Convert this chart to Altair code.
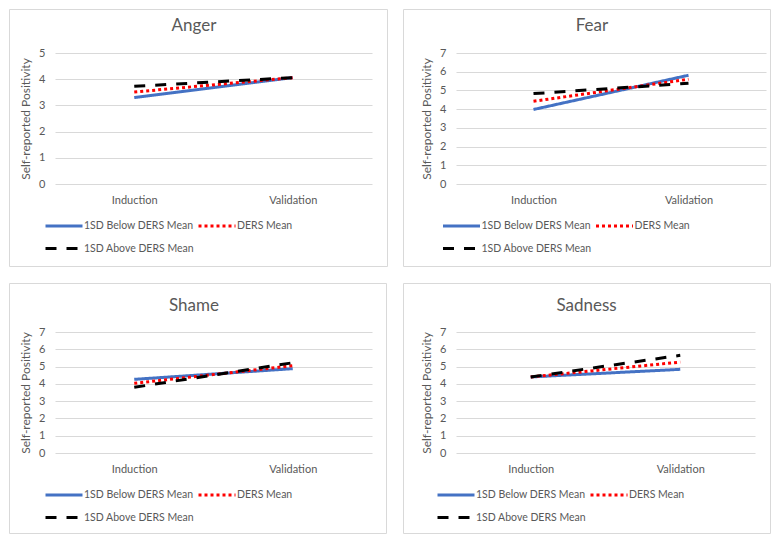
import altair as alt
import pandas as pd

phases = ["Induction", "Validation"]
series = ["1SD Below DERS Mean", "DERS Mean", "1SD Above DERS Mean"]
emotions = ["Anger", "Fear", "Shame", "Sadness"]

anger_below = [3.30, 4.06]
anger_mean = [3.51, 4.06]
anger_above = [3.73, 4.06]
fear_below = [3.98, 5.81]
fear_mean = [4.42, 5.60]
fear_above = [4.83, 5.38]
shame_below = [4.26, 4.88]
shame_mean = [4.03, 5.05]
shame_above = [3.80, 5.22]
sadness_below = [4.40, 4.84]
sadness_mean = [4.40, 5.26]
sadness_above = [4.40, 5.65]

y_max = [5, 7, 7, 7]

values = {
    "Anger": [anger_below, anger_mean, anger_above],
    "Fear": [fear_below, fear_mean, fear_above],
    "Shame": [shame_below, shame_mean, shame_above],
    "Sadness": [sadness_below, sadness_mean, sadness_above],
}

colors = ["#4472C4", "#FF0000", "#000000"]
dashes = [[1, 0], [3, 3], [11, 10]]
GRAY = "#595959"
FONT = "Lato"

# layout per panel: width, height, border box (left, right-extra, top, bottom-extra),
# legend x/y, title baseline y, title dx
layout = {
    "Anger": dict(w=317, h=131, box=(-45.5, 15.5, -43.5, 82.5), lx=-14, ly=165, ty=-22.5, tdx=-19.5),
    "Fear": dict(w=310, h=131, box=(-52.5, 4.5, -43.5, 82.5), lx=-17.5, ly=165, ty=-22.5, tdx=-19),
    "Shame": dict(w=317, h=121, box=(-45.5, 14.5, -48.5, 80.5), lx=-14, ly=155, ty=-21.3, tdx=-19.5),
    "Sadness": dict(w=299, h=121, box=(-52.5, 15.5, -48.5, 80.5), lx=-23, ly=155, ty=-21.3, tdx=-19),
}


def panel(name, ymax):
    L = layout[name]
    rows = []
    for s, vals in zip(series, values[name]):
        for p, v in zip(phases, vals):
            rows.append({"series": s, "phase": p, "value": v})
    df = pd.DataFrame(rows)

    leg = alt.Legend(
        title=None, orient="none", legendX=L["lx"], legendY=L["ly"], columns=2,
        direction="horizontal",
        symbolType="stroke", symbolSize=1369, symbolStrokeWidth=3, clipHeight=16,
        symbolOffset=3,
        rowPadding=6.5, columnPadding=0, labelOffset=0, labelFont=FONT,
        labelFontSize=10.5, labelColor=GRAY, padding=0,
    )

    b = L["box"]
    border = alt.Chart(pd.DataFrame({"k": [0]})).mark_rect(
        fillOpacity=0, stroke="#D9D9D9", strokeWidth=1
    ).encode(
        x=alt.value(b[0]), x2=alt.value(L["w"] + b[1]),
        y=alt.value(b[2]), y2=alt.value(L["h"] + b[3]),
    )

    title = alt.Chart(pd.DataFrame({"t": [name]})).mark_text(
        font=FONT, fontSize=17, color=GRAY, align="center", baseline="alphabetic"
    ).encode(
        text=alt.Text("t:N"),
        x=alt.value(L["w"] / 2 + L["tdx"]),
        y=alt.value(L["ty"]),
    )

    lines = alt.Chart(df).mark_line(strokeWidth=3).encode(
        x=alt.X(
            "phase:N", sort=phases, title=None,
            scale=alt.Scale(type="point", padding=0.5),
            axis=alt.Axis(labelAngle=0, domain=False, ticks=False, grid=False,
                          labelPadding=10, labelFont=FONT, labelFontSize=11,
                          labelColor=GRAY),
        ),
        y=alt.Y(
            "value:Q",
            scale=alt.Scale(domain=[0, ymax], nice=False, zero=True),
            axis=alt.Axis(values=list(range(ymax + 1)), domain=False, ticks=False,
                          gridColor="#D9D9D9", gridWidth=1, labelPadding=10,
                          labelFont=FONT, labelFontSize=11, labelColor=GRAY,
                          title="Self-reported Positivity", titleFont=FONT,
                          titleFontSize=12, titleColor=GRAY, titleFontWeight="normal",
                          titlePadding=6),
        ),
        color=alt.Color("series:N", sort=series,
                        scale=alt.Scale(domain=series, range=colors), legend=leg),
        strokeDash=alt.StrokeDash("series:N", sort=series,
                                  scale=alt.Scale(domain=series, range=dashes), legend=leg),
    )

    return alt.layer(border, title, lines).properties(width=L["w"], height=L["h"])


p = [panel(n, m) for n, m in zip(emotions, y_max)]

res = dict(color="independent", strokeDash="independent", y="independent", x="independent")
top = alt.hconcat(p[0], p[1], spacing=13).resolve_scale(**res)
bottom = alt.hconcat(p[2], p[3], spacing=14).resolve_scale(**res)

chart = alt.vconcat(top, bottom, spacing=14).resolve_scale(**res).properties(
    padding=0, background="white"
).configure_view(stroke="transparent")

chart.save("out.html", embed_options={"renderer": "svg", "actions": False})
